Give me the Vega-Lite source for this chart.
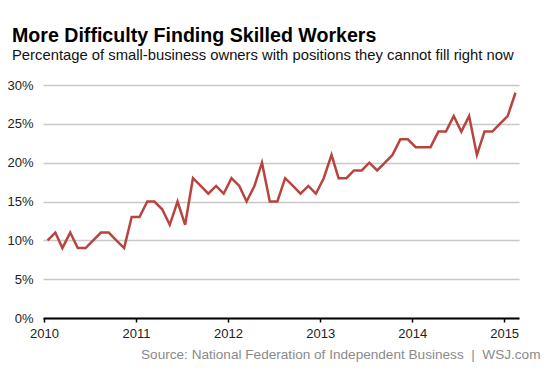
{
  "$schema": "https://vega.github.io/schema/vega-lite/v6.json",
  "width": 476,
  "height": 233,
  "autosize": {"type": "none"},
  "padding": {"left": 43, "top": 85, "right": 34, "bottom": 51},
  "background": "white",
  "title": {
    "text": "More Difficulty Finding Skilled Workers",
    "subtitle": "Percentage of small-business owners with positions they cannot fill right now",
    "anchor": "start",
    "frame": "group",
    "dx": -31,
    "offset": 15,
    "font": "Liberation Sans",
    "fontSize": 19.6,
    "fontWeight": "bold",
    "color": "#000000",
    "subtitleFont": "Liberation Sans",
    "subtitleFontSize": 14.8,
    "subtitleColor": "#111111",
    "subtitlePadding": 2
  },
  "data": {
    "values": [
      {"date": "2010-01-15", "pct": 10}, {"date": "2010-02-15", "pct": 11}, {"date": "2010-03-15", "pct": 9},
      {"date": "2010-04-15", "pct": 11}, {"date": "2010-05-15", "pct": 9}, {"date": "2010-06-15", "pct": 9},
      {"date": "2010-07-15", "pct": 10}, {"date": "2010-08-15", "pct": 11}, {"date": "2010-09-15", "pct": 11},
      {"date": "2010-10-15", "pct": 10}, {"date": "2010-11-15", "pct": 9}, {"date": "2010-12-15", "pct": 13},
      {"date": "2011-01-15", "pct": 13}, {"date": "2011-02-15", "pct": 15}, {"date": "2011-03-15", "pct": 15},
      {"date": "2011-04-15", "pct": 14}, {"date": "2011-05-15", "pct": 12}, {"date": "2011-06-15", "pct": 15},
      {"date": "2011-07-15", "pct": 12}, {"date": "2011-08-15", "pct": 18}, {"date": "2011-09-15", "pct": 17},
      {"date": "2011-10-15", "pct": 16}, {"date": "2011-11-15", "pct": 17}, {"date": "2011-12-15", "pct": 16},
      {"date": "2012-01-15", "pct": 18}, {"date": "2012-02-15", "pct": 17}, {"date": "2012-03-15", "pct": 15},
      {"date": "2012-04-15", "pct": 17}, {"date": "2012-05-15", "pct": 20}, {"date": "2012-06-15", "pct": 15},
      {"date": "2012-07-15", "pct": 15}, {"date": "2012-08-15", "pct": 18}, {"date": "2012-09-15", "pct": 17},
      {"date": "2012-10-15", "pct": 16}, {"date": "2012-11-15", "pct": 17}, {"date": "2012-12-15", "pct": 16},
      {"date": "2013-01-15", "pct": 18}, {"date": "2013-02-15", "pct": 21}, {"date": "2013-03-15", "pct": 18},
      {"date": "2013-04-15", "pct": 18}, {"date": "2013-05-15", "pct": 19}, {"date": "2013-06-15", "pct": 19},
      {"date": "2013-07-15", "pct": 20}, {"date": "2013-08-15", "pct": 19}, {"date": "2013-09-15", "pct": 20},
      {"date": "2013-10-15", "pct": 21}, {"date": "2013-11-15", "pct": 23}, {"date": "2013-12-15", "pct": 23},
      {"date": "2014-01-15", "pct": 22}, {"date": "2014-02-15", "pct": 22}, {"date": "2014-03-15", "pct": 22},
      {"date": "2014-04-15", "pct": 24}, {"date": "2014-05-15", "pct": 24}, {"date": "2014-06-15", "pct": 26},
      {"date": "2014-07-15", "pct": 24}, {"date": "2014-08-15", "pct": 26}, {"date": "2014-09-15", "pct": 21},
      {"date": "2014-10-15", "pct": 24}, {"date": "2014-11-15", "pct": 24}, {"date": "2014-12-15", "pct": 25},
      {"date": "2015-01-15", "pct": 26}, {"date": "2015-02-15", "pct": 29}
    ]
  },
  "mark": {"type": "line", "color": "#b8443f", "strokeWidth": 2.5},
  "encoding": {
    "x": {
      "field": "date",
      "type": "temporal",
      "scale": {"domain": [{"year": 2009, "month": 12, "date": 28}, {"year": 2015, "month": 3, "date": 1}]},
      "axis": {
        "format": "%Y",
        "tickCount": {"interval": "year", "step": 1},
        "grid": false,
        "domainColor": "#000000",
        "domainWidth": 2,
        "tickColor": "#000000",
        "tickSize": 4,
        "tickWidth": 1.5,
        "labelFont": "Liberation Sans",
        "labelFontSize": 13,
        "labelColor": "#222222",
        "labelPadding": 5,
        "labelFlush": false,
        "title": "Source: National Federation of Independent Business \u00a0|\u00a0 WSJ.com",
        "titleX": 497,
        "titleY": 40,
        "titleAlign": "right",
        "titleBaseline": "alphabetic",
        "titleAnchor": null,
        "titleFont": "Liberation Sans",
        "titleColor": "#8a8a8a",
        "titleFontSize": 13.6,
        "titleFontWeight": "normal"
      }
    },
    "y": {
      "field": "pct",
      "type": "quantitative",
      "scale": {"domain": [0, 30], "nice": false},
      "axis": {
        "values": [0, 5, 10, 15, 20, 25, 30],
        "labelExpr": "datum.value + '%'",
        "domain": false,
        "ticks": false,
        "gridColor": "#c8c8c8",
        "gridWidth": 1.5,
        "labelPadding": 10,
        "labelFont": "Liberation Sans",
        "labelFontSize": 13,
        "labelColor": "#222222",
        "title": null
      }
    }
  },
  "config": {"view": {"stroke": null}}
}
